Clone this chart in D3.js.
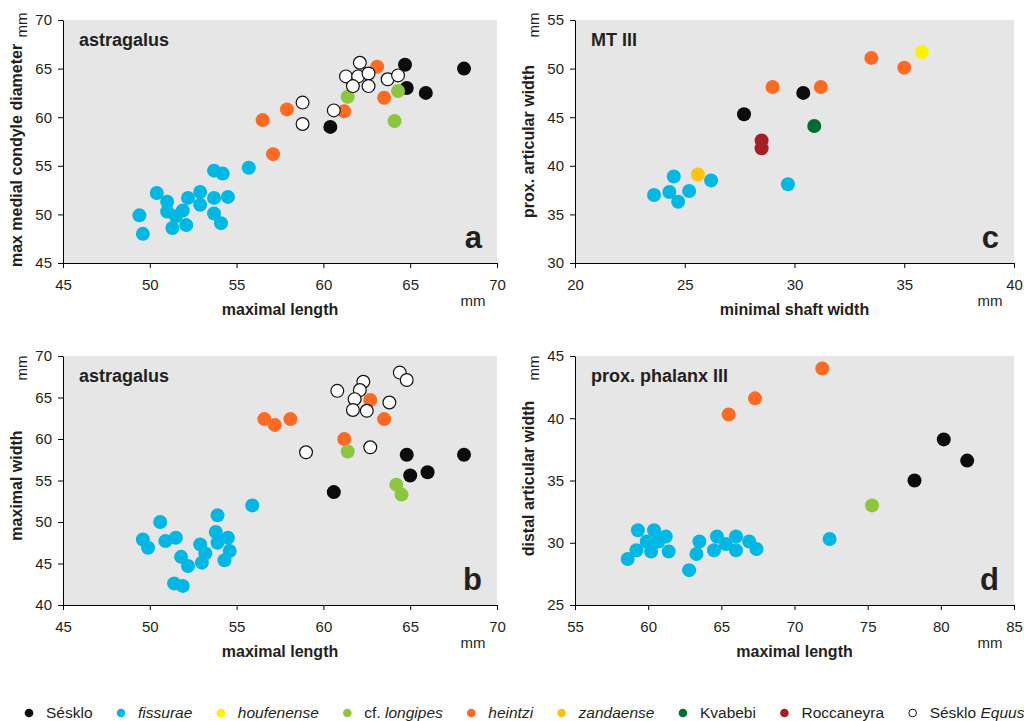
<!DOCTYPE html>
<html>
<head>
<meta charset="utf-8">
<script src="https://cdn.jsdelivr.net/npm/d3@7"></script>
<style>
  body { margin: 0; background: #fff; }
  svg text { font-family: "Liberation Sans", Arial, sans-serif; fill: #231f20; }
  .tick text { font-size: 15px; }
  .tick line, .domain { stroke: #000; }
</style>
</head>
<body>
<div id="chart"></div>
<script>
// series, in legend order
const seriesKeys = ["sesklo", "fissurae", "houfenense", "longipes", "heintzi", "zandaense", "kvabebi", "roccaneyra", "equus"];
const seriesColors = ["#0a0d0c", "#00b8e3", "#fff200", "#8cc63f", "#ff6a22", "#ffc20e", "#006b35", "#a61f24", "#ffffff"];
// legend labels: [plain, italic] parts
const seriesLabels = [
  [["Sésklo", false]],
  [["fissurae", true]],
  [["houfenense", true]],
  [["cf. ", false], ["longipes", true]],
  [["heintzi", true]],
  [["zandaense", true]],
  [["Kvabebi", false]],
  [["Roccaneyra", false]],
  [["Sésklo ", false], ["Equus", true]]
];
// which series lie on top of which
const drawOrder = ["sesklo", "fissurae", "heintzi", "longipes", "houfenense", "zandaense", "kvabebi", "roccaneyra", "equus"];

// a: astragalus, maximal length vs max medial condyle diameter
const astragalusCondyle = [
  ["sesklo", 64.7, 65.4], ["sesklo", 68.1, 65.0], ["sesklo", 64.8, 63.0], ["sesklo", 65.9, 62.5], ["sesklo", 60.4, 59.0],
  ["fissurae", 49.4, 49.9], ["fissurae", 49.6, 48.0], ["fissurae", 50.4, 52.2], ["fissurae", 51.0, 51.3], ["fissurae", 51.0, 50.3],
  ["fissurae", 51.5, 49.8], ["fissurae", 51.9, 50.4], ["fissurae", 51.3, 48.6], ["fissurae", 52.1, 48.9], ["fissurae", 52.2, 51.7],
  ["fissurae", 52.9, 52.3], ["fissurae", 52.9, 51.0], ["fissurae", 53.7, 54.5], ["fissurae", 54.2, 54.2], ["fissurae", 53.7, 51.7],
  ["fissurae", 54.5, 51.8], ["fissurae", 53.7, 50.1], ["fissurae", 54.1, 49.1], ["fissurae", 55.7, 54.8],
  ["heintzi", 56.5, 59.7], ["heintzi", 57.9, 60.8], ["heintzi", 57.1, 56.2], ["heintzi", 63.1, 65.2], ["heintzi", 61.2, 60.6], ["heintzi", 63.5, 62.0],
  ["longipes", 61.4, 62.1], ["longipes", 64.3, 62.7], ["longipes", 64.1, 59.6],
  ["equus", 58.8, 61.5], ["equus", 58.8, 59.3], ["equus", 60.6, 60.7], ["equus", 62.1, 65.6], ["equus", 61.3, 64.2], ["equus", 62.0, 64.2],
  ["equus", 62.6, 64.5], ["equus", 61.7, 63.2], ["equus", 62.6, 63.2], ["equus", 63.7, 63.9], ["equus", 64.3, 64.3]
];

// b: astragalus, maximal length vs maximal width
const astragalusWidth = [
  ["sesklo", 64.8, 58.1], ["sesklo", 68.1, 58.1], ["sesklo", 65.0, 55.6], ["sesklo", 66.0, 56.0], ["sesklo", 60.6, 53.6],
  ["fissurae", 49.6, 47.9], ["fissurae", 49.9, 46.9], ["fissurae", 50.6, 50.0], ["fissurae", 50.9, 47.7], ["fissurae", 51.5, 48.1],
  ["fissurae", 51.8, 45.8], ["fissurae", 52.2, 44.7], ["fissurae", 51.4, 42.6], ["fissurae", 51.9, 42.3], ["fissurae", 52.9, 47.3],
  ["fissurae", 53.2, 46.2], ["fissurae", 53.0, 45.1], ["fissurae", 53.9, 50.8], ["fissurae", 53.8, 48.8], ["fissurae", 53.9, 47.5],
  ["fissurae", 54.5, 48.1], ["fissurae", 54.6, 46.5], ["fissurae", 54.3, 45.4], ["fissurae", 55.9, 52.0],
  ["heintzi", 56.6, 62.4], ["heintzi", 57.2, 61.7], ["heintzi", 58.1, 62.4], ["heintzi", 62.7, 64.7], ["heintzi", 63.5, 62.4], ["heintzi", 61.2, 60.0],
  ["longipes", 61.4, 58.5], ["longipes", 64.2, 54.5], ["longipes", 64.5, 53.3],
  ["equus", 59.0, 58.4], ["equus", 60.8, 65.8], ["equus", 62.3, 66.9], ["equus", 62.1, 65.9], ["equus", 61.8, 64.8], ["equus", 61.7, 63.5],
  ["equus", 62.5, 63.4], ["equus", 63.8, 64.4], ["equus", 64.4, 68.0], ["equus", 64.8, 67.1], ["equus", 62.7, 59.0]
];

// c: MT III, minimal shaft width vs prox. articular width
const metatarsal = [
  ["sesklo", 27.7, 45.3], ["sesklo", 30.4, 47.5],
  ["fissurae", 23.6, 37.0], ["fissurae", 24.3, 37.3], ["fissurae", 24.5, 38.9], ["fissurae", 25.2, 37.4],
  ["fissurae", 24.7, 36.3], ["fissurae", 26.2, 38.5], ["fissurae", 29.7, 38.1],
  ["houfenense", 35.8, 51.7],
  ["heintzi", 29.0, 48.1], ["heintzi", 31.2, 48.1], ["heintzi", 33.5, 51.1], ["heintzi", 35.0, 50.1],
  ["zandaense", 25.6, 39.1],
  ["kvabebi", 30.9, 44.1],
  ["roccaneyra", 28.5, 42.6], ["roccaneyra", 28.5, 41.8]
];

// d: prox. phalanx III, maximal length vs distal articular width
const phalanx = [
  ["sesklo", 78.2, 35.0], ["sesklo", 80.2, 38.3], ["sesklo", 81.8, 36.6],
  ["fissurae", 58.6, 28.7], ["fissurae", 59.3, 31.0], ["fissurae", 59.2, 29.4], ["fissurae", 59.9, 30.1], ["fissurae", 60.4, 31.0],
  ["fissurae", 60.2, 29.3], ["fissurae", 60.7, 30.1], ["fissurae", 61.2, 30.5], ["fissurae", 61.4, 29.3], ["fissurae", 63.5, 30.1],
  ["fissurae", 63.3, 29.1], ["fissurae", 62.8, 27.8], ["fissurae", 64.7, 30.5], ["fissurae", 64.5, 29.4], ["fissurae", 65.3, 29.9],
  ["fissurae", 66.0, 30.5], ["fissurae", 66.0, 29.4], ["fissurae", 66.9, 30.1], ["fissurae", 67.4, 29.5], ["fissurae", 72.4, 30.3],
  ["heintzi", 65.5, 40.3], ["heintzi", 67.3, 41.6], ["heintzi", 71.9, 44.0],
  ["longipes", 75.3, 33.0]
];

const panels = [
  { letter: "a", title: "astragalus", data: astragalusCondyle, xDomain: [45, 70], yDomain: [45, 70],
    xTitle: "maximal length", yTitle: "max medial condyle diameter",
    left: 63, right: 497, top: 20, bottom: 263, yTitleShift: 14, mmShift: 5 },
  { letter: "b", title: "astragalus", data: astragalusWidth, xDomain: [45, 70], yDomain: [40, 70],
    xTitle: "maximal length", yTitle: "maximal width",
    left: 63, right: 497, top: 356, bottom: 605, yTitleShift: 5, mmShift: 12 },
  { letter: "c", title: "MT III", data: metatarsal, xDomain: [20, 40], yDomain: [30, 55],
    xTitle: "minimal shaft width", yTitle: "prox. articular width",
    left: 575, right: 1014, top: 20, bottom: 263, yTitleShift: 0, mmShift: 5 },
  { letter: "d", title: "prox. phalanx III", data: phalanx, xDomain: [55, 85], yDomain: [25, 45],
    xTitle: "maximal length", yTitle: "distal articular width",
    left: 575, right: 1014, top: 356, bottom: 605, yTitleShift: -2, mmShift: 12 }
];

const width = 1024, height = 721, radius = 7;

const color = d3.scaleOrdinal().domain(seriesKeys).range(seriesColors);

const svg = d3.select("#chart")
  .append("svg")
  .attr("width", width)
  .attr("height", height);

panels.forEach(p => {
  const xScale = d3.scaleLinear().domain(p.xDomain).range([p.left, p.right]);
  const yScale = d3.scaleLinear().domain(p.yDomain).range([p.bottom, p.top]);
  const g = svg.append("g");

  g.append("rect")
    .attr("x", p.left)
    .attr("y", p.top)
    .attr("width", p.right - p.left)
    .attr("height", p.bottom - p.top)
    .attr("fill", "#e6e6e6");

  const xAxis = d3.axisBottom(xScale)
    .tickValues(d3.range(p.xDomain[0], p.xDomain[1] + 1, 5))
    .tickSize(5).tickSizeOuter(0).tickPadding(11);
  const yAxis = d3.axisLeft(yScale)
    .tickValues(d3.range(p.yDomain[0], p.yDomain[1] + 1, 5))
    .tickSize(5).tickSizeOuter(0).tickPadding(6);

  g.append("g")
    .attr("transform", `translate(0, ${p.bottom})`)
    .call(xAxis)
    .attr("font-family", null).attr("font-size", null);
  g.append("g")
    .attr("transform", `translate(${p.left}, 0)`)
    .call(yAxis)
    .attr("font-family", null).attr("font-size", null);

  const rows = p.data.slice().sort((a, b) => drawOrder.indexOf(a[0]) - drawOrder.indexOf(b[0]));
  g.selectAll("circle.dot")
    .data(rows)
    .join("circle")
    .attr("class", "dot")
    .attr("cx", d => xScale(d[1]))
    .attr("cy", d => yScale(d[2]))
    .attr("r", d => d[0] === "equus" ? radius - 0.6 : radius)
    .attr("fill", d => color(d[0]))
    .attr("stroke", d => d[0] === "equus" ? "#111" : "none")
    .attr("stroke-width", 1.2);

  // panel title and letter
  g.append("text")
    .attr("x", p.left + 16)
    .attr("y", p.top + 26)
    .attr("font-size", 18)
    .attr("font-weight", "bold")
    .text(p.title);
  g.append("text")
    .attr("x", p.right - 15)
    .attr("y", p.bottom - 15)
    .attr("text-anchor", "end")
    .attr("font-size", 31)
    .attr("font-weight", "bold")
    .text(p.letter);

  // axis titles
  g.append("text")
    .attr("x", (p.left + p.right) / 2)
    .attr("y", p.bottom + 52)
    .attr("text-anchor", "middle")
    .attr("font-size", 16)
    .attr("font-weight", "bold")
    .text(p.xTitle);
  g.append("text")
    .attr("x", p.right - 24)
    .attr("y", p.bottom + 43)
    .attr("text-anchor", "middle")
    .attr("font-size", 15)
    .text("mm");

  const ty = (p.top + p.bottom) / 2 + p.yTitleShift;
  g.append("text")
    .attr("transform", `translate(${p.left - 41}, ${ty}) rotate(-90)`)
    .attr("text-anchor", "middle")
    .attr("font-size", 16)
    .attr("font-weight", "bold")
    .text(p.yTitle);
  g.append("text")
    .attr("transform", `translate(${p.left - 36}, ${p.top + p.mmShift}) rotate(-90)`)
    .attr("text-anchor", "middle")
    .attr("font-size", 15)
    .text("mm");
});

// legend, laid out left to right
const legend = svg.append("g").attr("transform", "translate(0, 718)");
let cursor = 29;
seriesKeys.forEach((key, i) => {
  legend.append("circle")
    .attr("cx", cursor)
    .attr("cy", -5)
    .attr("r", key === "equus" ? 3.8 : 4.3)
    .attr("fill", color(key))
    .attr("stroke", key === "equus" ? "#111" : "none")
    .attr("stroke-width", 1);
  const label = legend.append("text")
    .attr("x", cursor + 17)
    .attr("y", 0)
    .attr("font-size", 15.5);
  seriesLabels[i].forEach(part => {
    label.append("tspan")
      .attr("font-style", part[1] ? "italic" : null)
      .text(part[0]);
  });
  cursor += 17 + label.node().getComputedTextLength() + 28.5;
});
</script>
</body>
</html>
